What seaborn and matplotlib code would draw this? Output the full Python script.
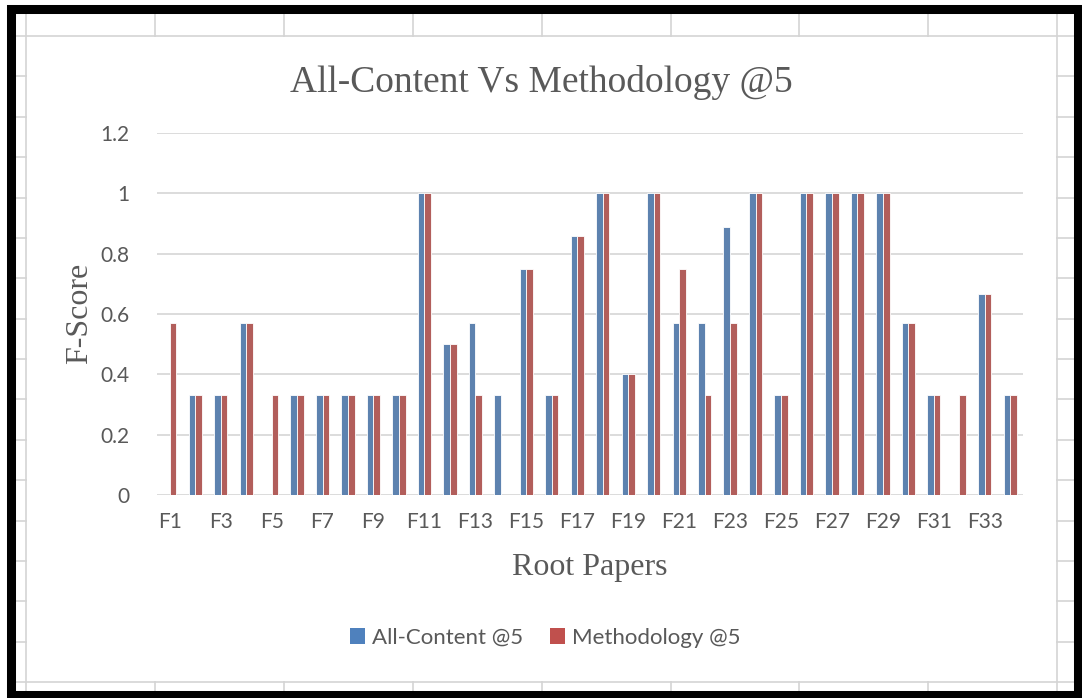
import pandas as pd
import seaborn as sns
import matplotlib.pyplot as plt
from matplotlib.lines import Line2D
from matplotlib.patches import Rectangle, Patch

# data
papers = ["F%d" % i for i in range(1, 35)]
all_content = [0, 0.333, 0.333, 0.571, 0, 0.333, 0.333, 0.333, 0.333, 0.333,
               1, 0.5, 0.571, 0.333, 0.75, 0.333, 0.857, 1, 0.4, 1,
               0.571, 0.571, 0.889, 1, 0.333, 1, 1, 1, 1, 0.571,
               0.333, 0, 0.667, 0.333]
methodology = [0.571, 0.333, 0.333, 0.571, 0.333, 0.333, 0.333, 0.333, 0.333, 0.333,
               1, 0.5, 0.333, 0, 0.75, 0.333, 0.857, 1, 0.4, 1,
               0.75, 0.333, 0.571, 1, 0.333, 1, 1, 1, 1, 0.571,
               0.333, 0.333, 0.667, 0.333]
series = ["All-Content @5", "Methodology @5"]
colors = ["#4F81BD", "#C0504D"]

df = pd.DataFrame({
    "paper": papers * 2,
    "score": all_content + methodology,
    "series": [series[0]] * len(papers) + [series[1]] * len(papers),
})

sns.set_style("white")
plt.rcParams['font.family'] = ['Lato', 'DejaVu Sans']

W, H = 1082, 698
fig = plt.figure(figsize=(W / 100, H / 100), dpi=100)


def fx(px):
    return px / W


def fy(py):
    return 1 - py / H


# spreadsheet cells behind the chart
grid_c = "#D4D4D4"
for x in [26 + 128.9 * i for i in range(9)]:
    fig.add_artist(Line2D([fx(x), fx(x)], [fy(13), fy(694)], color=grid_c, lw=1.2, zorder=-5))
for y in [36 + 40.375 * i for i in range(17)]:
    fig.add_artist(Line2D([fx(15), fx(1077)], [fy(y), fy(y)], color=grid_c, lw=1.2, zorder=-5))
# chart area
fig.add_artist(Rectangle((fx(27), fy(681)), fx(1056) - fx(27), fy(37) - fy(681),
                         facecolor="white", edgecolor="none", zorder=-4))
# thick black frame of the screenshot
fig.add_artist(Rectangle((fx(11), fy(695)), fx(1078) - fx(11), fy(9) - fy(695),
                         facecolor="none", edgecolor="black", lw=6.5, zorder=10))

ax = fig.add_axes([fx(157), fy(495), fx(1023) - fx(157), fy(133) - fy(495)])
ax.set_facecolor("none")
sns.barplot(data=df, x="paper", y="score", hue="series", palette=colors,
            width=0.52, edgecolor="white", linewidth=0.6, ax=ax, legend=False)

ax.set_ylim(0, 1.2)
ax.set_yticks([0, 0.2, 0.4, 0.6, 0.8, 1, 1.2])
ax.set_yticklabels(["0", "0.2", "0.4", "0.6", "0.8", "1", "1.2"])
ax.set_xticks(range(0, len(papers), 2))
ax.set_xticklabels(papers[::2])
ax.yaxis.grid(True, color="#D9D9D9", lw=1.3)
ax.set_axisbelow(True)
for s in ax.spines.values():
    s.set_visible(False)
ax.tick_params(axis="both", length=0, labelsize=15, labelcolor="#595959")
ax.tick_params(axis="y", pad=20)
ax.tick_params(axis="x", pad=12)
ax.set_xlabel("")
ax.set_ylabel("")

serif = ['Liberation Serif', 'DejaVu Serif']
fig.text(fx(541), fy(82), "All-Content Vs Methodology @5", ha="center", va="center",
         fontsize=27, color="#595959", family=serif)
fig.text(fx(80), fy(313), "F-Score", ha="center", va="center", rotation=90,
         fontsize=23, color="#595959", family=serif)
fig.text(fx(590), fy(568), "Root Papers", ha="center", va="center",
         fontsize=23, color="#595959", family=serif)

handles = [Patch(facecolor=c, edgecolor="none") for c in colors]
fig.legend(handles, series, loc="center", bbox_to_anchor=(fx(545), fy(638)), ncol=2,
           frameon=False, fontsize=16, labelcolor="#595959", handlelength=0.7,
           handleheight=0.7, handletextpad=0.3, columnspacing=1.2)

fig.savefig("out.png", dpi=100)
